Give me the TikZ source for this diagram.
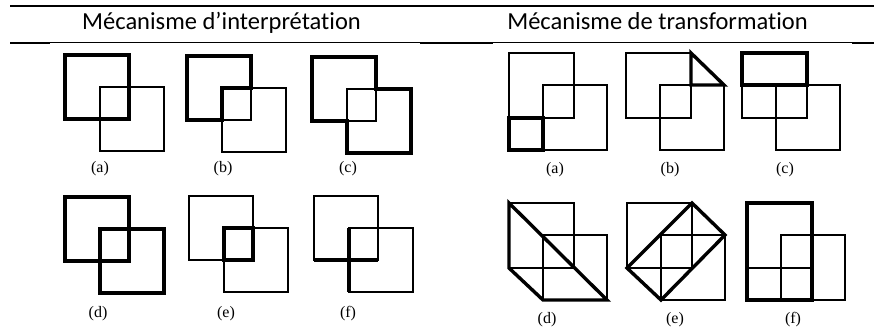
\documentclass[tikz,border=0pt]{standalone}
\usepackage{fontspec}
\setmainfont{Liberation Serif}
\newfontfamily\headfont[Ligatures=NoCommon]{Carlito}
\begin{document}
\begin{tikzpicture}[x=1pt,y=-1pt,
  thin line/.style={line width=1.4pt,line join=miter},
  thick line/.style={line width=3.4pt,line join=miter},
  lab/.style={font=\fontsize{16}{16}\selectfont,inner sep=0pt,anchor=base},
  head/.style={font=\headfont\fontsize{24.5}{24.5}\selectfont,inner sep=0pt,anchor=base}]
\useasboundingbox (0,0) rectangle (874,329);
% rules
\draw[line width=1.5pt] (10,6) -- (874,6);
\draw[line width=1pt] (10,43) -- (874,43);
\draw[line width=2pt] (10,43) -- (50,43) (420,43) -- (493,43) (852,43) -- (874,43);
\node[head] (h1) at (221.5,30) {Mécanisme d’interprétation};
\node[head] (h2) at (657.5,30) {Mécanisme de transformation};
% ---------- left panel ----------
\tikzset{pair/.pic={\draw[thin line] (0,0) rectangle (64,64) (35,32) rectangle (99,96);}}
% (a)
\begin{scope}[shift={(65,55)}]
\pic {pair};
\draw[thick line] (0,0) rectangle (64,64);
\end{scope}
% (b)
\begin{scope}[shift={(187,56)}]
\pic {pair};
\draw[thick line] (0,0) -- (64,0) -- (64,32) -- (35,32) -- (35,64) -- (0,64) -- cycle;
\end{scope}
% (c)
\begin{scope}[shift={(312,57)}]
\pic {pair};
\draw[thick line] (0,0) -- (64,0) -- (64,32) -- (99,32) -- (99,96) -- (35,96) -- (35,64) -- (0,64) -- cycle;
\end{scope}
% (d)
\begin{scope}[shift={(65,197)}]
\draw[thick line] (0,0) rectangle (64,64) (35,32) rectangle (99,96);
\end{scope}
% (e)
\begin{scope}[shift={(189,196)}]
\pic {pair};
\draw[thick line] (35,32) rectangle (64,64);
\end{scope}
% (f)
\begin{scope}[shift={(314,196)}]
\pic {pair};
\draw[thick line] (0,64) -- (64,64) (35,32) -- (35,96);
\end{scope}
\node[lab] (la) at (100,172) {(a)};
\node[lab] (lb) at (223,172) {(b)};
\node[lab] (lc) at (348,172) {(c)};
\node[lab] (ld) at (98,317) {(d)};
\node[lab] (le) at (226,317) {(e)};
\node[lab] (lf) at (348,317) {(f)};
% ---------- right panel ----------
\tikzset{rpair/.pic={\draw[thin line] (0,0) rectangle (65,65) (34,32) rectangle (98,97);}}
% (a)
\begin{scope}[shift={(509,53)}]
\pic {rpair};
\draw[thick line] (0,65) rectangle (34,97);
\end{scope}
% (b)
\begin{scope}[shift={(626,53)}]
\pic {rpair};
\draw[thick line] (65,0) -- (65,32) -- (98,32) -- cycle;
\end{scope}
% (c)
\begin{scope}[shift={(742,53)}]
\pic {rpair};
\draw[thick line] (0,0) rectangle (65,32);
\end{scope}
% (d)
\begin{scope}[shift={(509,203)}]
\pic {rpair};
\draw[thick line] (0,0) -- (0,65) -- (34,97) -- (98,97) -- cycle;
\end{scope}
% (e)
\begin{scope}[shift={(627,203)}]
\pic {rpair};
\draw[thick line] (0,65) -- (65,0) -- (98,32) -- (34,97) -- cycle;
\end{scope}
% (f)
\begin{scope}[shift={(747,203)}]
\pic {rpair};
\draw[thick line] (0,0) rectangle (65,97);
\end{scope}
\node[lab] (ra) at (555,173) {(a)};
\node[lab] (rb) at (670,173) {(b)};
\node[lab] (rc) at (785,173) {(c)};
\node[lab] (rd) at (547,323) {(d)};
\node[lab] (re) at (675,323) {(e)};
\node[lab] (rf) at (793,323) {(f)};
\end{tikzpicture}
\end{document}
